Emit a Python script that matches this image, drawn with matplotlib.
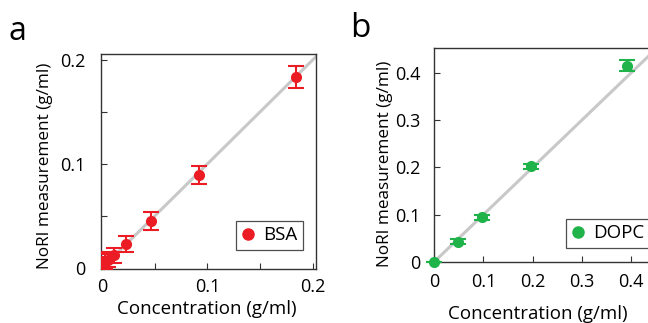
import matplotlib.pyplot as plt
from matplotlib.lines import Line2D
from matplotlib.ticker import FixedLocator, FuncFormatter

plt.rcParams["font.family"] = ["Open Sans", "DejaVu Sans"]

# BSA series
bsa_conc = [0.184, 0.092, 0.046, 0.023, 0.0115, 0.0058, 0.0029, 0.0014, 0.0007]
bsa_meas = [0.183, 0.089, 0.045, 0.023, 0.012, 0.008, 0.006, 0.004, 0.003]
bsa_err = [0.0105, 0.0085, 0.0085, 0.008, 0.0075, 0.007, 0.007, 0.007, 0.007]

# DOPC series
dopc_conc = [0.0, 0.049, 0.098, 0.196, 0.392]
dopc_meas = [0.0, 0.043, 0.094, 0.202, 0.415]
dopc_err = [0.0, 0.005, 0.006, 0.006, 0.011]

RED = "#ec1c24"
GREEN = "#1fb34a"
SPINE = "#333333"


def fmt(v, _):
    return "0" if abs(v) < 1e-9 else f"{v:.1f}"


def style_axes(ax, major, minor, xpad, ypad, xlab_pos, ylab_pos):
    for s in ax.spines.values():
        s.set_color(SPINE)
        s.set_linewidth(1.0)
    ax.xaxis.set_major_locator(FixedLocator(major))
    ax.yaxis.set_major_locator(FixedLocator(major))
    ax.xaxis.set_minor_locator(FixedLocator(minor))
    ax.yaxis.set_minor_locator(FixedLocator(minor))
    ax.xaxis.set_major_formatter(FuncFormatter(fmt))
    ax.yaxis.set_major_formatter(FuncFormatter(fmt))
    ax.tick_params(which="both", direction="in", length=4, width=0.8,
                   color=SPINE, labelsize=13)
    ax.tick_params(axis="x", pad=xpad)
    ax.tick_params(axis="y", pad=ypad)
    ax.set_xlabel("Concentration (g/ml)", fontsize=13.5)
    ax.set_ylabel("NoRI measurement (g/ml)", fontsize=12.3)
    ax.xaxis.set_label_coords(*xlab_pos)
    ax.yaxis.set_label_coords(*ylab_pos)


def add_legend(ax, color, name, anchor, loc):
    handle = Line2D([], [], ls="none", marker="o", ms=8, color=color)
    leg = ax.legend([handle], [name], loc=loc, bbox_to_anchor=anchor,
                    fontsize=13.5, handlelength=0.7, handletextpad=0.45,
                    borderpad=0.3, borderaxespad=0, fancybox=False,
                    edgecolor="#222222")
    leg.get_frame().set_linewidth(0.9)


fig = plt.figure(figsize=(6.48, 3.23), dpi=100)

ax1 = fig.add_axes([0.1559, 0.1672, 0.3318, 0.6656])
ax1.plot([0, 0.21], [0, 0.21], color="#c8c8c8", lw=2.2, zorder=1)
ax1.errorbar(bsa_conc, bsa_meas, yerr=bsa_err, fmt="o", color=RED, ms=7,
             elinewidth=1.5, capsize=5.5, capthick=1.5, zorder=3)
ax1.set_xlim(-0.001, 0.203)
ax1.set_ylim(-0.001, 0.2055)
style_axes(ax1, [0, 0.1, 0.2], [0.05, 0.15], 6.5, 11,
           (0.493, -0.145), (-0.225, 0.479))
add_legend(ax1, RED, "BSA", (0.94, 0.088), "lower right")
fig.text(0.013, 0.875, "a", fontsize=23)

ax2 = fig.add_axes([0.6698, 0.1889, 0.3426, 0.6625])
ax2.plot([0, 0.45], [0, 0.45], color="#c8c8c8", lw=2.2, zorder=1)
ax2.errorbar(dopc_conc, dopc_meas, yerr=dopc_err, fmt="o", color=GREEN, ms=7,
             elinewidth=1.5, capsize=5.5, capthick=1.5, zorder=3,
             clip_on=False)
ax2.set_xlim(0, 0.45)
ax2.set_ylim(0, 0.452)
style_axes(ax2, [0, 0.1, 0.2, 0.3, 0.4], [], 8, 10,
           (0.466, -0.2), (-0.185, 0.458))
add_legend(ax2, GREEN, "DOPC", (0.595, 0.065), "lower left")
fig.text(0.541, 0.885, "b", fontsize=24)

fig.savefig("out.png", dpi=100)
